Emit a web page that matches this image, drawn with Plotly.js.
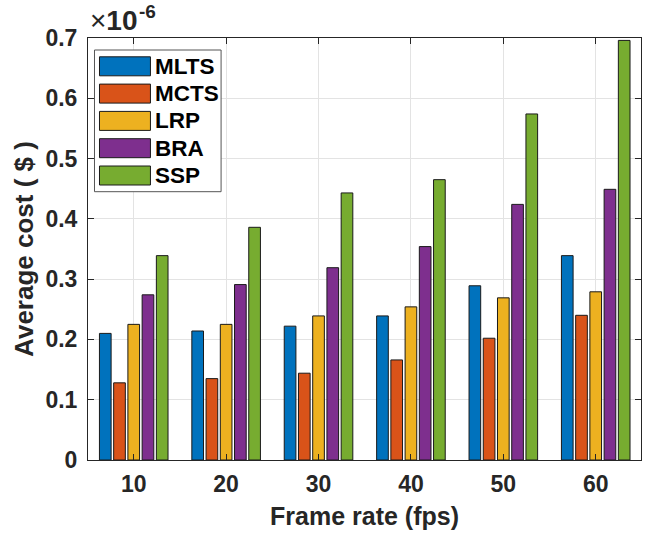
<!DOCTYPE html>
<html>
<head>
<meta charset="utf-8">
<script src="https://cdn.plot.ly/plotly-3.0.1.min.js"></script>
<style>html,body{margin:0;padding:0;background:#fff;}#chart{width:649px;height:536px;}</style>
</head>
<body>
<div id="chart"></div>
<script>
// Frame rates (x categories)
const frameRates = [10, 20, 30, 40, 50, 60];
// Series names
const seriesNames = ["MLTS", "MCTS", "LRP", "BRA", "SSP"];
// Average cost values, in units of 1e-6 $
const mlts = [0.210, 0.214, 0.222, 0.239, 0.289, 0.339];
const mcts = [0.128, 0.135, 0.144, 0.166, 0.202, 0.240];
const lrp  = [0.225, 0.225, 0.239, 0.254, 0.269, 0.279];
const bra  = [0.274, 0.291, 0.319, 0.354, 0.424, 0.449];
const ssp  = [0.339, 0.386, 0.443, 0.465, 0.574, 0.696];
// Y tick values
const yTicks = [0, 0.1, 0.2, 0.3, 0.4, 0.5, 0.6, 0.7];

const seriesValues = [mlts, mcts, lrp, bra, ssp];
const colors = ["#0072BD", "#D95319", "#EDB120", "#7E2F8E", "#77AC30"];
const FONT = "Liberation Sans, Arial, Helvetica, sans-serif";
const axisColor = "#262626";

const traces = seriesNames.map((name, i) => ({
  type: "bar",
  name: name,
  x: frameRates,
  y: seriesValues[i],
  marker: { color: colors[i], line: { color: "#1a1a1a", width: 1 } },
  showlegend: false,
  hoverinfo: "x+y+name"
}));

// plot area in pixels
const L = 87.5, R = 641, T = 38, B = 460, W = 649, H = 536;
const px2x = p => (p - L) / (R - L);
const py2y = p => (B - p) / (B - T);

const shapes = [];
const annotations = [];
// custom legend box
shapes.push({
  type: "rect", xref: "paper", yref: "paper",
  x0: px2x(94), x1: px2x(220.7), y0: py2y(191.7), y1: py2y(50),
  line: { color: "#555555", width: 1 }, fillcolor: "#ffffff", layer: "above"
});
seriesNames.forEach((name, i) => {
  const cy = 66.3 + 27.3 * i;
  shapes.push({
    type: "rect", xref: "paper", yref: "paper",
    x0: px2x(99), x1: px2x(150), y0: py2y(cy + 9.5), y1: py2y(cy - 9.5),
    line: { color: "#1a1a1a", width: 1 }, fillcolor: colors[i], layer: "above"
  });
  annotations.push({
    xref: "paper", yref: "paper", x: px2x(153), y: py2y(cy),
    xanchor: "left", yanchor: "middle", showarrow: false,
    text: "<b>" + name + "</b>",
    font: { family: FONT, size: 22.5, color: "#000000" }
  });
});
// exponent label (multiplier and superscript drawn as two texts)
annotations.push({
  xref: "paper", yref: "paper", x: px2x(87), y: py2y(21),
  xanchor: "left", yanchor: "middle", showarrow: false,
  text: "×<b>10</b>",
  font: { family: FONT, size: 28, color: axisColor }
});
annotations.push({
  xref: "paper", yref: "paper", x: px2x(137), y: py2y(11),
  xanchor: "left", yanchor: "middle", showarrow: false,
  text: "<b>-6</b>",
  font: { family: FONT, size: 19, color: axisColor }
});

const layout = {
  width: W, height: H,
  margin: { l: L, r: W - R, t: T, b: H - B, pad: 0 },
  paper_bgcolor: "#ffffff", plot_bgcolor: "#ffffff",
  barmode: "group", bargap: 0.23, bargroupgap: 0.18,
  font: { family: FONT, color: axisColor },
  xaxis: {
    range: [5.05, 64.9],
    tickvals: frameRates,
    ticktext: frameRates.map(String),
    ticks: "inside", ticklen: 6, tickcolor: axisColor, tickwidth: 1,
    showline: true, linecolor: axisColor, linewidth: 1, mirror: "ticks",
    showgrid: true, gridcolor: "#e3e3e3", gridwidth: 1,
    zeroline: false,
    tickfont: { family: FONT, size: 23, color: axisColor, weight: "bold" },
    ticklabelstandoff: 3,
    title: { text: "<b>Frame rate (fps)</b>", font: { family: FONT, size: 25, color: axisColor }, standoff: 11 },
    automargin: false
  },
  yaxis: {
    range: [0, 0.7],
    tickvals: yTicks,
    ticktext: yTicks.map(v => v === 0 ? "0" : v.toFixed(1)),
    ticks: "inside", ticklen: 6, tickcolor: axisColor, tickwidth: 1,
    showline: true, linecolor: axisColor, linewidth: 1, mirror: "ticks",
    showgrid: true, gridcolor: "#e3e3e3", gridwidth: 1,
    zeroline: false,
    tickfont: { family: FONT, size: 23, color: axisColor, weight: "bold" },
    ticklabelstandoff: 5,
    title: { text: "<b>Average cost ( $ )</b>", font: { family: FONT, size: 26, color: axisColor }, standoff: 4 },
    automargin: false
  },
  shapes: shapes,
  annotations: annotations,
  showlegend: false
};

Plotly.newPlot("chart", traces, layout, { displayModeBar: false, staticPlot: true });
</script>
</body>
</html>
